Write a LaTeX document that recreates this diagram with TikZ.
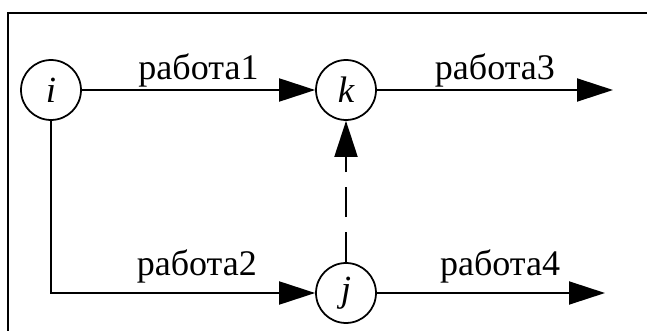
\documentclass[tikz,border=0pt]{standalone}
\usepackage{fontspec}
\setmainfont{Liberation Serif}
\usetikzlibrary{arrows.meta}

\begin{document}
\begin{tikzpicture}[
    x=0.02cm, y=-0.02cm,
    font=\fontsize{20.5}{24}\selectfont,
    ev/.style={circle, draw, line width=1pt, minimum size=1.2cm, inner sep=0pt,
        font=\fontsize{21}{24}\selectfont\itshape},
    a/.style={-{Triangle[length=0.72cm, width=0.46cm]}, line width=1.1pt},
    lbl/.style={anchor=base, inner sep=0pt},
    frame/.style={line width=1.4pt}
]
\useasboundingbox (0,0) rectangle (647,331);
% ===== РАМКА =====
\draw[frame] (8,331) -- (8,13) -- (647,13);
% ===== СОБЫТИЯ =====
\node[ev] (i) at (51,90)  {i};
\node[ev] (k) at (346,90) {k};
\node[ev] (j) at (346,293) {j};
\coordinate (k3) at (613,90);
\coordinate (j4) at (605,293);
% ===== РАБОТЫ =====
\draw[a] (i) -- node[lbl, pos=0.5, yshift=0.22cm] {работа1} (k);
\draw[a] (k) -- node[lbl, pos=0.5, yshift=0.22cm] {работа3} (k3);
\draw[a] (i.south) |- node[lbl, pos=0.776, yshift=0.36cm] {работа2} (j);
\draw[a] (j) -- node[lbl, pos=0.54, yshift=0.35cm] {работа4} (j4);
% фиктивная работа
\draw[a, dash pattern=on 0.6cm off 0.3cm] (j) -- (k);
\end{tikzpicture}
\end{document}
